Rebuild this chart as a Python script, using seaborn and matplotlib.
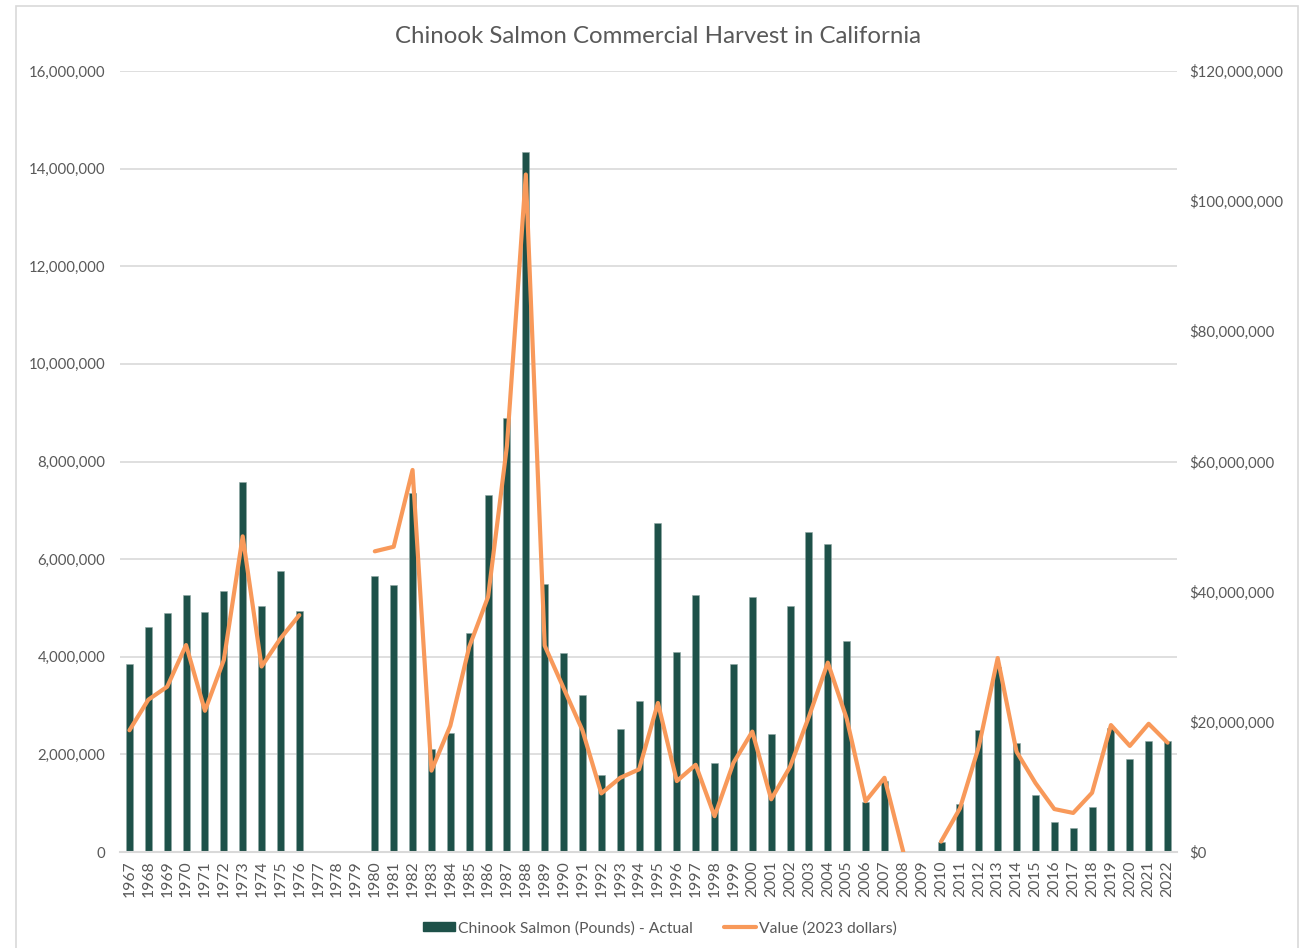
import numpy as np
import pandas as pd
import matplotlib
matplotlib.use("Agg")
import matplotlib.pyplot as plt
from matplotlib.patches import Rectangle, Patch
from matplotlib.lines import Line2D
from matplotlib.ticker import FuncFormatter, MultipleLocator
import seaborn as sns

years = list(range(1967, 2023))

# Commercial landings, pounds (NaN = no season / no data)
pounds = [
    3850000, 4600000, 4890000, 5270000, 4910000, 5350000, 7570000, 5040000, 5760000, 4930000,  # 1967-1976
    np.nan, np.nan, np.nan,                                                                    # 1977-1979
    5650000, 5480000, 7360000, 2110000, 2440000, 4480000, 7310000, 8890000, 14340000, 5500000,  # 1980-1989
    4080000, 3220000, 1570000, 2520000, 3090000, 6750000, 4100000, 5270000, 1820000, 3850000,  # 1990-1999
    5230000, 2410000, 5030000, 6560000, 6300000, 4320000, 1020000, 1460000, 0, np.nan,          # 2000-2009
    210000, 980000, 2500000, 3800000, 2230000, 1160000, 610000, 490000, 920000, 2550000,       # 2010-2019
    1910000, 2270000, 2270000,                                                                 # 2020-2022
]

# Ex-vessel value in 2023 dollars
value = [
    18.7e6, 23.4e6, 25.4e6, 31.8e6, 21.7e6, 29.5e6, 48.5e6, 28.5e6, 32.8e6, 36.4e6,
    np.nan, np.nan, np.nan,
    46.2e6, 46.9e6, 58.7e6, 12.5e6, 19.4e6, 31.5e6, 39.2e6, 62.4e6, 104.1e6, 31.7e6,
    25.2e6, 18.7e6, 9.0e6, 11.4e6, 12.7e6, 22.9e6, 10.9e6, 13.4e6, 5.5e6, 13.7e6,
    18.5e6, 8.1e6, 13.1e6, 20.8e6, 29.1e6, 20.5e6, 7.8e6, 11.4e6, 0.0, np.nan,
    1.6e6, 6.7e6, 16.2e6, 29.8e6, 15.4e6, 10.6e6, 6.6e6, 6.0e6, 9.1e6, 19.5e6,
    16.3e6, 19.7e6, 16.8e6,
]

bar_label = "Chinook Salmon (Pounds) - Actual"
line_label = "Value (2023 dollars)"

BAR_COLOR = "#1E5149"
LINE_COLOR = "#F8995A"
TEXT_COLOR = "#595959"
GRID_COLOR = "#D9D9D9"

sns.set_theme(style="white")
plt.rcParams["font.family"] = ["Lato", "DejaVu Sans"]

df = pd.DataFrame({"year": [str(y) for y in years], "pounds": pounds, "value": value})
df["pos"] = np.arange(len(df))

# split the value series into continuous runs so gaps stay open
seg = df["value"].isna().cumsum()
line_df = df.dropna(subset=["value"]).copy()
line_df["segment"] = seg[line_df.index]

fig = plt.figure(figsize=(13.07, 9.48), dpi=100)
ax = fig.add_axes([120 / 1307, 96 / 948, 1057 / 1307, 781 / 948])

sns.barplot(data=df.dropna(subset=["pounds"]), x="year", y="pounds", order=df["year"].tolist(),
            color=BAR_COLOR, width=0.37, errorbar=None, saturation=1, ax=ax,
            edgecolor="#8FA8A4", linewidth=0.4)

ax.set_ylim(0, 16_000_000)
ax.yaxis.set_major_locator(MultipleLocator(2_000_000))
ax.yaxis.set_major_formatter(FuncFormatter(lambda v, p: f"{v:,.0f}"))
ax.set_xlim(-0.5, len(years) - 0.5)
ax.grid(axis="y", color=GRID_COLOR, linewidth=1.2)
ax.set_axisbelow(True)
ax.set_xlabel("")
ax.set_ylabel("")
for s in ["top", "right", "left"]:
    ax.spines[s].set_visible(False)
ax.spines["bottom"].set_color(GRID_COLOR)
ax.spines["bottom"].set_linewidth(1.5)
ax.tick_params(axis="y", length=0, colors=TEXT_COLOR, labelsize=10.8, pad=10.5)
ax.tick_params(axis="x", length=0, colors=TEXT_COLOR, labelsize=11.3, pad=6)
plt.setp(ax.get_xticklabels(), rotation=90)

ax2 = ax.twinx()
sns.lineplot(data=line_df, x="pos", y="value", units="segment", estimator=None,
             color=LINE_COLOR, linewidth=3.0, ax=ax2, legend=False)
ax2.set_ylim(0, 120_000_000)
ax2.yaxis.set_major_locator(MultipleLocator(20_000_000))
ax2.yaxis.set_major_formatter(FuncFormatter(lambda v, p: f"${v:,.0f}"))
ax2.set_xlim(-0.5, len(years) - 0.5)
ax2.set_xlabel("")
ax2.set_ylabel("")
for s in ax2.spines.values():
    s.set_visible(False)
ax2.tick_params(axis="y", length=0, colors=TEXT_COLOR, labelsize=10.8, pad=9)

fig.text(0.5035, 0.962, "Chinook Salmon Commercial Harvest in California",
         ha="center", va="center", fontsize=17.3, color=TEXT_COLOR)

handles = [Patch(facecolor=BAR_COLOR, edgecolor=BAR_COLOR),
           Line2D([0], [0], color=LINE_COLOR, linewidth=3.0)]
fig.legend(handles, [bar_label, line_label], loc="center", bbox_to_anchor=(0.505, 0.021),
           ncol=2, frameon=False, fontsize=11.3, labelcolor=TEXT_COLOR,
           handlelength=2.0, handleheight=0.5, handletextpad=0.2, columnspacing=2.0)

# outer chart frame
fig.patches.append(Rectangle((16 / 1307, -0.02), (1298 - 16) / 1307, 1.02 - 6 / 948,
                             transform=fig.transFigure, fill=False,
                             edgecolor=GRID_COLOR, linewidth=1.2))

fig.savefig("out.png", dpi=100, facecolor="white")
